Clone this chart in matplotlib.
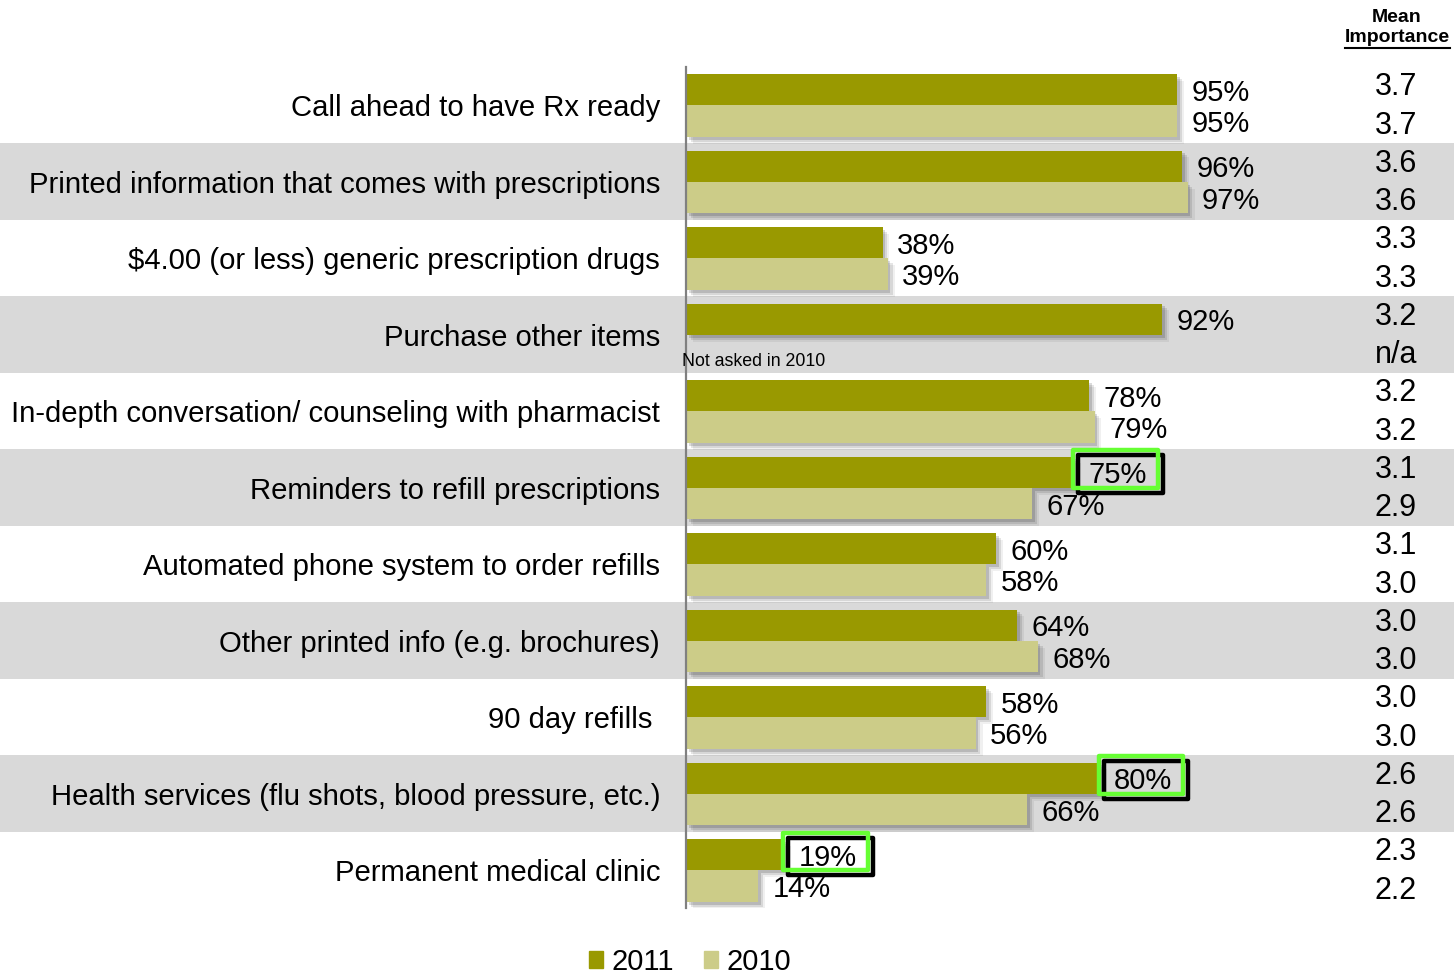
import matplotlib
matplotlib.use("Agg")
import matplotlib.pyplot as plt
import matplotlib.patheffects as pe
from matplotlib.patches import Rectangle, Patch
from matplotlib.lines import Line2D
from matplotlib import transforms

plt.rcParams["font.family"] = ["Liberation Sans", "DejaVu Sans"]

categories = [
    "Call ahead to have Rx ready",
    "Printed information that comes with prescriptions",
    "$4.00 (or less) generic prescription drugs",
    "Purchase other items",
    "In-depth conversation/ counseling with pharmacist",
    "Reminders to refill prescriptions",
    "Automated phone system to order refills",
    "Other printed info (e.g. brochures)",
    "90 day refills ",
    "Health services (flu shots, blood pressure, etc.)",
    "Permanent medical clinic",
]
pct_2011 = [95, 96, 38, 92, 78, 75, 60, 64, 58, 80, 19]
pct_2010 = [95, 97, 39, None, 79, 67, 58, 68, 56, 66, 14]
mean_2011 = ["3.7", "3.6", "3.3", "3.2", "3.2", "3.1", "3.1", "3.0", "3.0", "2.6", "2.3"]
mean_2010 = ["3.7", "3.6", "3.3", "n/a", "3.2", "2.9", "3.0", "3.0", "3.0", "2.6", "2.2"]
highlighted = [5, 9, 10]

C2011 = "#999900"
C2010 = "#cccc88"
BAND = "#d9d9d9"
GREEN = "#66ff33"

W, H = 1454, 974
fig = plt.figure(figsize=(W / 100, H / 100), dpi=100)
ax = fig.add_axes([686 / W, (H - 908.25) / H, 724 / W, 841.5 / H])
ax.set_xlim(0, 140)
ax.set_ylim(len(categories) - 0.5, -0.5)
ax.patch.set_alpha(0)
for s in ["top", "right", "bottom"]:
    ax.spines[s].set_visible(False)
ax.spines["left"].set_color("#808080")
ax.spines["left"].set_linewidth(1.6)
ax.spines["left"].set_zorder(5)
ax.set_xticks([])
ax.set_yticks([])

# alternating grey row bands across the whole width
band_tr = transforms.blended_transform_factory(fig.transFigure, ax.transData)
for i in range(1, len(categories), 2):
    ax.add_patch(Rectangle((0, i - 0.5), 1, 1, transform=band_tr,
                           facecolor=BAND, edgecolor="none", clip_on=False, zorder=0))

shadow = [
    pe.SimplePatchShadow(offset=(5, -5), shadow_rgbFace="#000000", alpha=0.06),
    pe.SimplePatchShadow(offset=(3.5, -3.5), shadow_rgbFace="#000000", alpha=0.1),
    pe.SimplePatchShadow(offset=(2, -2), shadow_rgbFace="#000000", alpha=0.14),
    pe.Normal(),
]

y = list(range(len(categories)))
off11, off10, bh = -0.2, 0.21, 0.41
txt_dy = 0.04

bars11 = ax.barh([i + off11 for i in y], pct_2011, height=bh, color=C2011, zorder=2)
for b in bars11:
    b.set_path_effects(shadow)

y10 = [i + off10 for i, v in zip(y, pct_2010) if v is not None]
v10 = [v for v in pct_2010 if v is not None]
bars10 = ax.barh(y10, v10, height=bh, color=C2010, zorder=3)
for b in bars10:
    b.set_path_effects(shadow)

vfont = 21
gap = 2.8
for i, v in enumerate(pct_2011):
    ax.text(v + gap, i + off11 + txt_dy, f"{v}%", fontsize=vfont, va="center", ha="left", zorder=9)
for i, v in enumerate(pct_2010):
    if v is not None:
        ax.text(v + gap, i + off10 + txt_dy, f"{v}%", fontsize=vfont, va="center", ha="left", zorder=6)

ax.text(-0.8, 3 + 0.35, "Not asked in 2010", fontsize=12.8, va="center", ha="left", zorder=6)

# green call-out boxes with a dark offset outline
shift = transforms.offset_copy(ax.transData, fig=fig, x=5, y=-5, units="dots")
for i in highlighted:
    x0 = pct_2011[i] - 0.2
    rect_kw = dict(fill=False, linewidth=3.2, joinstyle="round", clip_on=False)
    ax.add_patch(Rectangle((x0, i - 0.24 - 0.245), 16.4, 0.49, transform=shift,
                           edgecolor="black", zorder=7, **rect_kw))
    ax.add_patch(Rectangle((x0, i - 0.24 - 0.245), 16.4, 0.49,
                           edgecolor=GREEN, zorder=8, **rect_kw))

for i, name in enumerate(categories):
    ax.text(-5.0, i + txt_dy, name, fontsize=21.1, va="center", ha="right", zorder=6)

for i in y:
    ax.text(137.3, i - 0.26 + 0.03, mean_2011[i], fontsize=22, va="center", ha="center", zorder=6)
    ax.text(137.3, i + 0.24 + 0.03, mean_2010[i], fontsize=22, va="center", ha="center", zorder=6)

fig.text(1397 / W, 1 - 18 / H, "Mean", fontsize=14, fontweight="bold", ha="center", va="center")
fig.text(1397 / W, 1 - 38 / H, "Importance", fontsize=14, fontweight="bold", ha="center", va="center")
fig.add_artist(Line2D([1345 / W, 1450 / W], [1 - 48 / H, 1 - 48 / H], color="black",
                      linewidth=1.5, transform=fig.transFigure))

fig.legend(handles=[Patch(color=C2011, label="2011"), Patch(color=C2010, label="2010")],
           loc="center", bbox_to_anchor=(690 / W, 1 - 962 / H), ncol=2, frameon=False,
           fontsize=21, handlelength=0.5, handleheight=0.5, handletextpad=0.3,
           columnspacing=1.0, borderaxespad=0)

fig.savefig("out.png", dpi=100, facecolor="white")
